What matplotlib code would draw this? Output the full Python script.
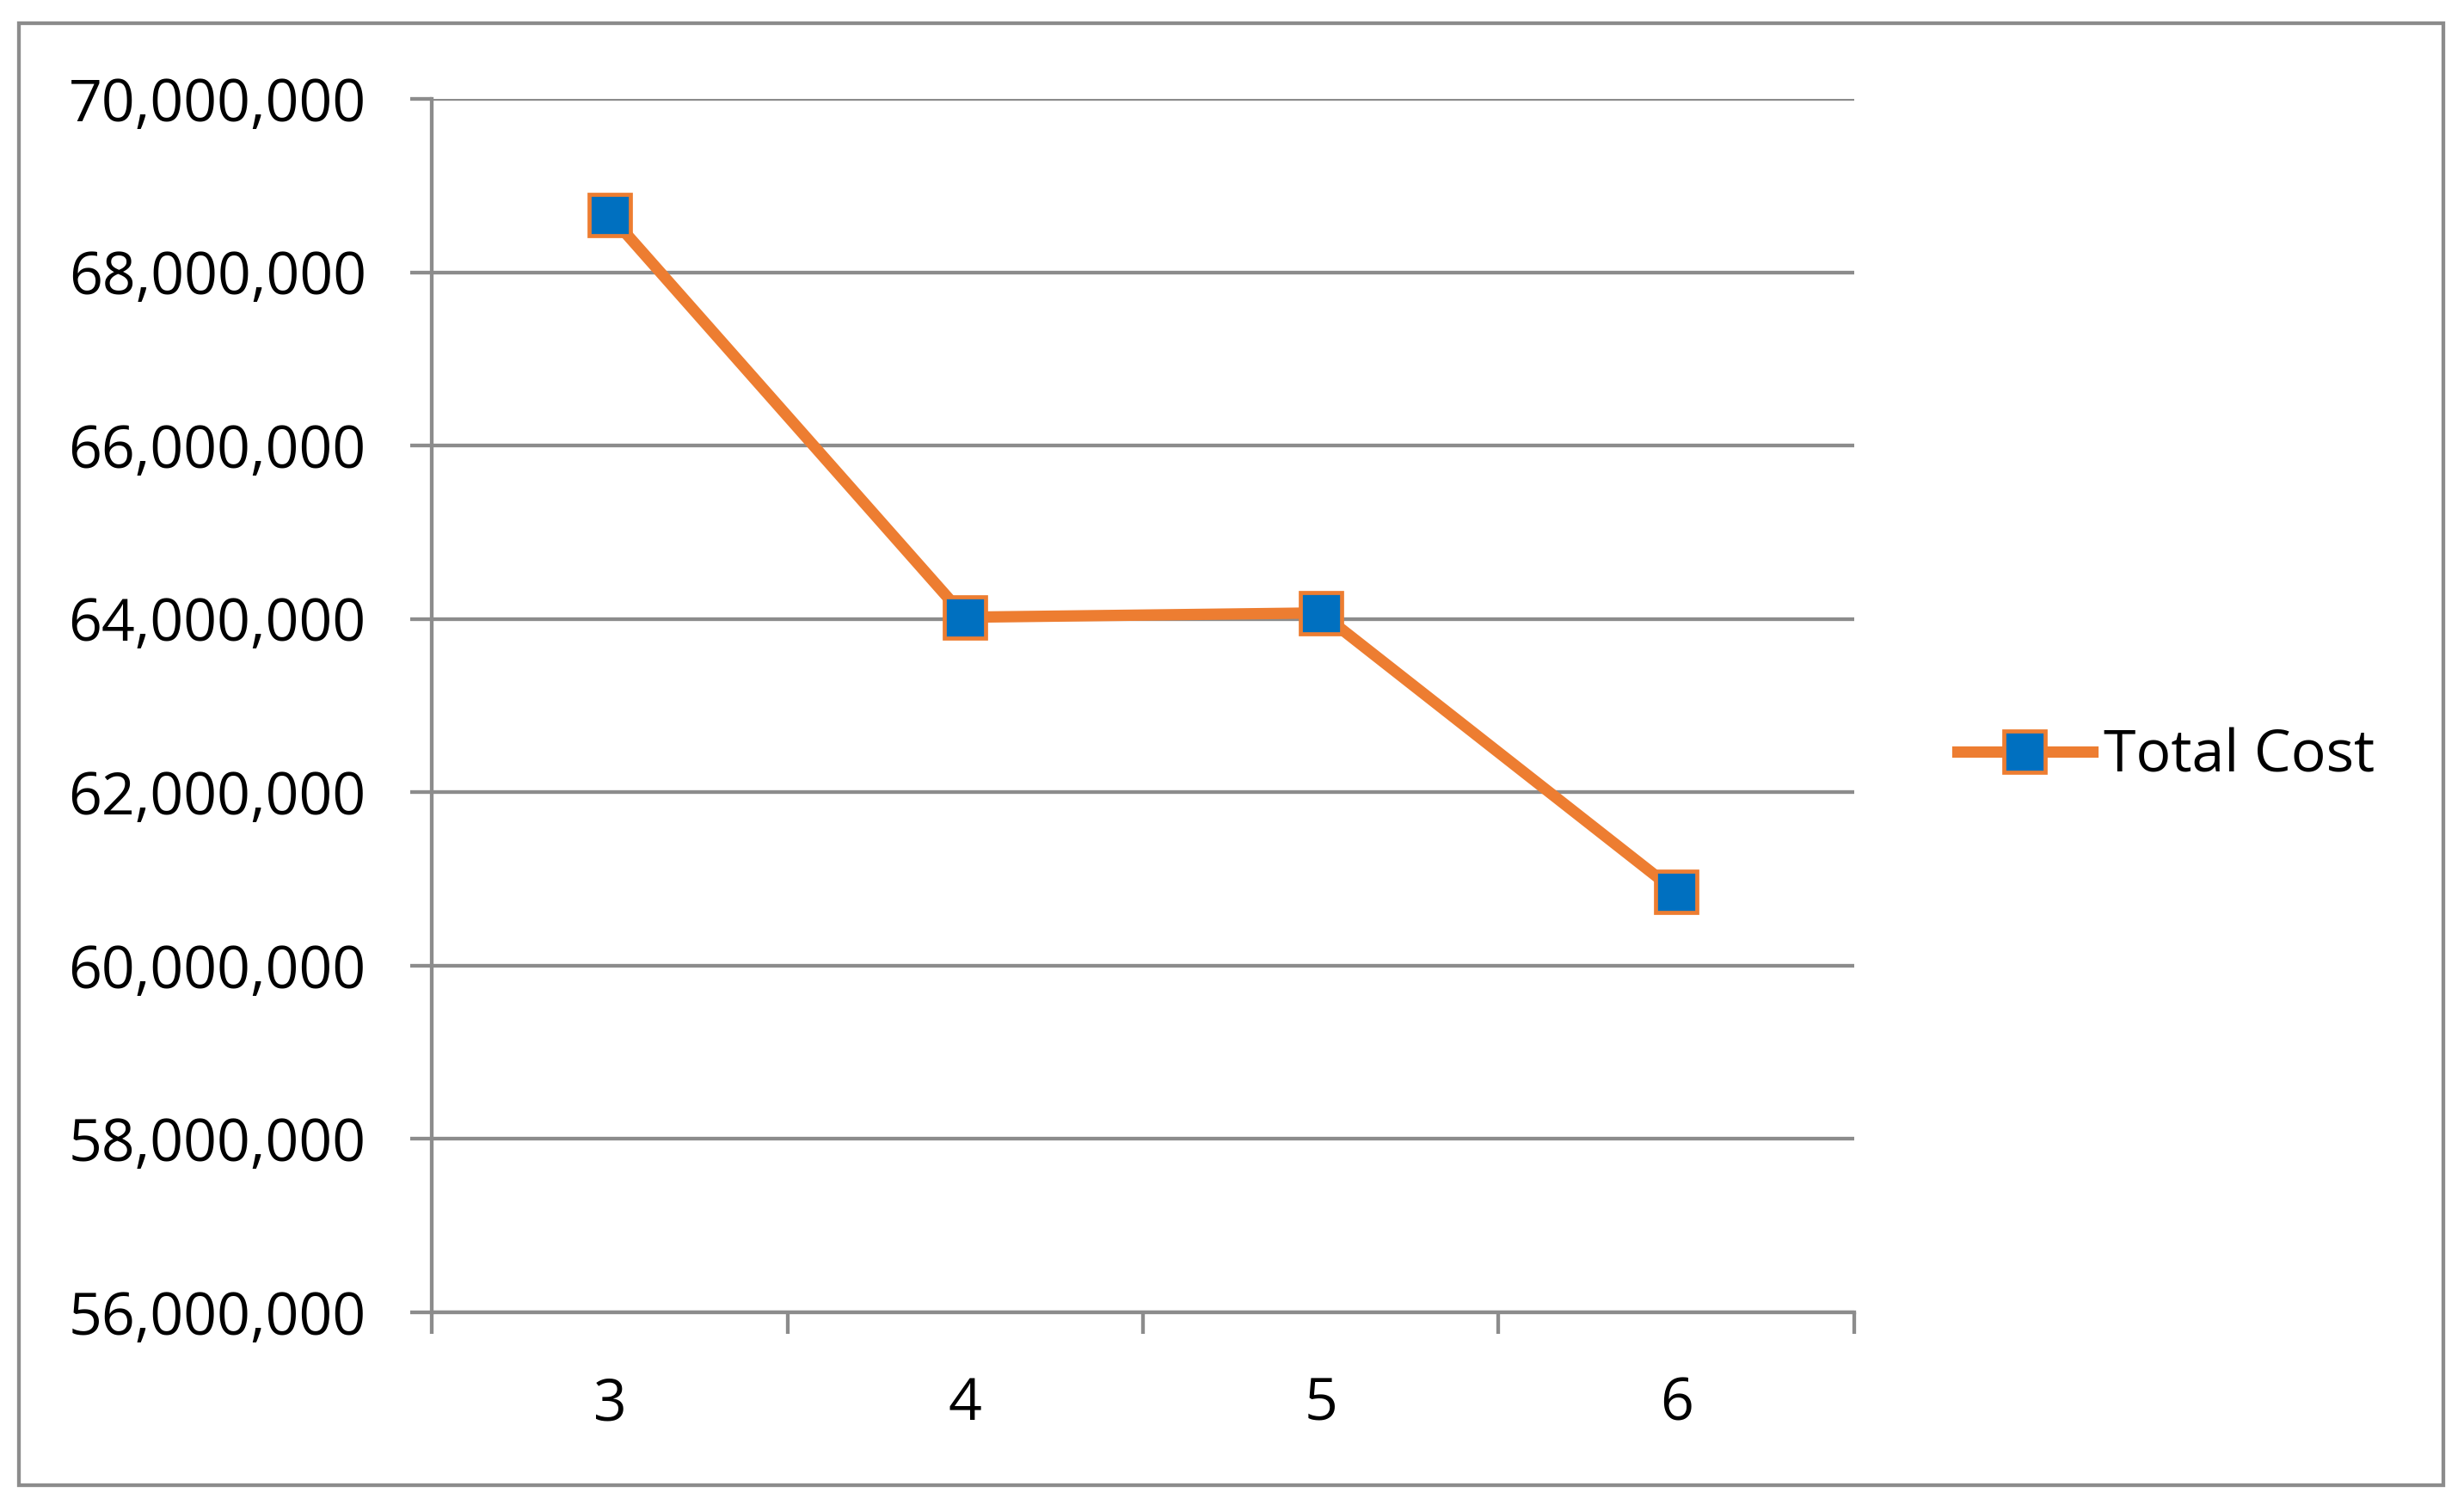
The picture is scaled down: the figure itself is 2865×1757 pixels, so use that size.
import matplotlib.pyplot as plt
import matplotlib.ticker as mticker
from matplotlib.patches import Rectangle

# values
categories = [3, 4, 5, 6]
total_cost = [68660000, 64020000, 64070000, 60850000]
y_ticks = [56000000, 58000000, 60000000, 62000000, 64000000, 66000000, 68000000, 70000000]

GRAY = '#8c8c8c'
ORANGE = '#ED7D31'
BLUE = '#0070C0'

plt.rcParams['font.family'] = ['Open Sans', 'DejaVu Sans']

fig = plt.figure(figsize=(28.65, 17.57), dpi=100)
ax = fig.add_axes([0.1753, 0.1315, 0.7525 - 0.1753, 0.9345 - 0.1315])

ax.plot(categories, total_cost, color=ORANGE, lw=9.5, marker='s', markersize=34,
        markerfacecolor=BLUE, markeredgecolor=ORANGE, markeredgewidth=3.4,
        label='Total Cost', zorder=3, solid_joinstyle='miter')

ax.set_xlim(2.5, 6.5)
ax.set_ylim(56000000, 70000000)
ax.set_yticks(y_ticks)
ax.yaxis.set_major_formatter(mticker.FuncFormatter(lambda v, p: f'{int(v):,}'))

# category ticks sit between the points, labels at the points
ax.set_xticks([2.5, 3.5, 4.5, 5.5, 6.5])
ax.set_xticklabels([])
ax.set_xticks(categories, minor=True)
ax.set_xticklabels([str(c) for c in categories], minor=True)
ax.tick_params(axis='x', which='minor', length=0, pad=53, labelsize=49)
ax.tick_params(axis='x', which='major', length=18, width=3.1, color=GRAY, direction='out')
ax.tick_params(axis='y', length=18, width=3.1, color=GRAY, pad=37, labelsize=49)

ax.grid(axis='y', color=GRAY, lw=3.1)
ax.set_axisbelow(True)
for s in ['top', 'right']:
    ax.spines[s].set_visible(False)
for s in ['left', 'bottom']:
    ax.spines[s].set_color(GRAY)
    ax.spines[s].set_linewidth(3.1)

leg = ax.legend(loc='center left', bbox_to_anchor=(2242 / 2865, 1 - 880 / 1757),
                bbox_transform=fig.transFigure, frameon=False, fontsize=49,
                borderpad=0, handlelength=2.3, handletextpad=0.2)

# outer chart border
fig.patches.append(Rectangle((22 / 2865, 1 - 1727 / 1757), (2841 - 22) / 2865, (1727 - 27) / 1757,
                             transform=fig.transFigure, fill=False, edgecolor=GRAY, lw=3.1))

fig.savefig('out.png', dpi=100)
